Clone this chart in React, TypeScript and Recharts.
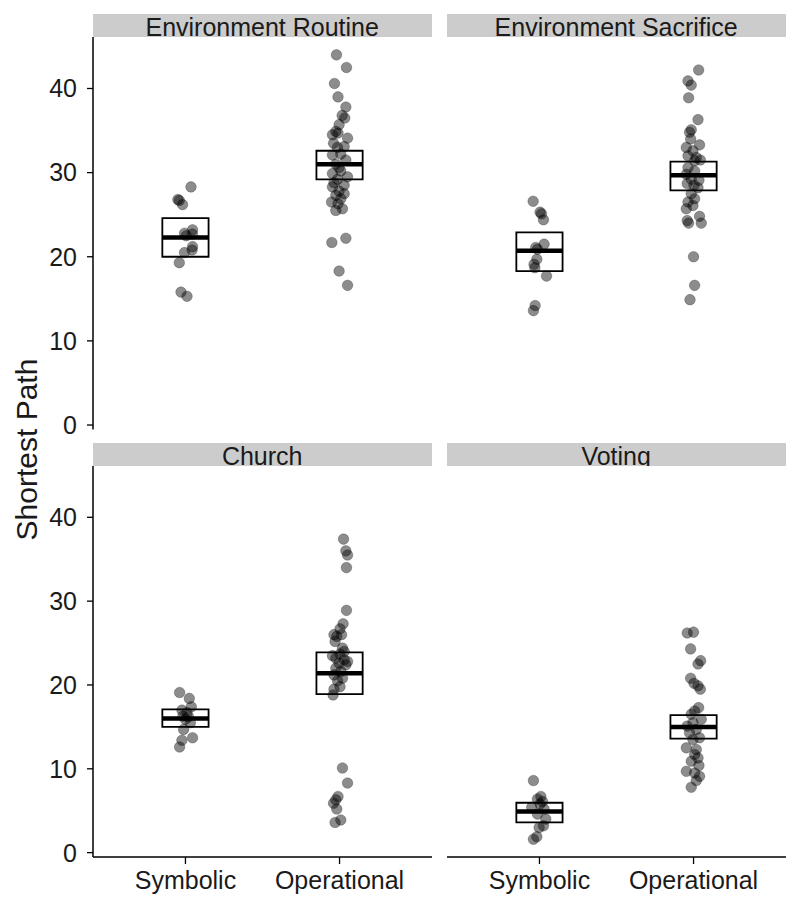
import React from "react";
import { ComposedChart, Scatter, XAxis, YAxis, ReferenceArea, ReferenceLine } from "recharts";

const groups = ["Symbolic", "Operational"];
const facets = ["Environment Routine", "Environment Sacrifice", "Church", "Voting"];
const yTicks = [0, 10, 20, 30, 40];
const yDomain = [-0.52, 46.12];

// Environment Routine
const erSymX = [1.036, 0.951, 0.96, 0.981, 1.046, 0.994, 1.045, 1.005, 1.046, 0.994, 1.043, 0.96, 0.971, 1.01];
const erSymY = [28.3, 26.8, 26.7, 26.2, 23.2, 22.8, 22.7, 22.5, 21.2, 20.5, 20.8, 19.3, 15.8, 15.3];
const erOpX = [1.98, 2.045, 1.967, 1.99, 2.041, 2.017, 2.034, 1.997, 1.976, 1.99, 1.954, 2.052, 1.961, 2.03, 1.987, 2.008, 1.954, 2.041, 1.976, 1.997, 2.008, 1.954, 2.052, 1.987, 1.964, 2.03, 1.954, 1.997, 2.03, 1.976, 2.008, 1.948, 1.99, 2.019, 1.976, 1.95, 2.041, 1.997, 2.052];
const erOpY = [44.0, 42.5, 40.6, 39.0, 37.8, 36.8, 36.5, 35.7, 34.9, 34.7, 34.5, 34.1, 33.5, 33.1, 33.0, 32.2, 32.1, 31.5, 31.0, 30.6, 30.2, 29.9, 29.5, 29.2, 28.8, 28.5, 28.3, 27.8, 27.5, 27.3, 26.9, 26.5, 26.3, 25.7, 25.5, 21.7, 22.2, 18.3, 16.6];
const erMean = [22.3, 31.0];
const erLow = [20.0, 29.2];
const erHigh = [24.6, 32.6];

// Environment Sacrifice
const esSymX = [0.959, 1.004, 1.013, 1.026, 1.03, 0.976, 0.987, 0.983, 0.965, 0.97, 1.046, 0.972, 0.961];
const esSymY = [26.6, 25.3, 25.1, 24.4, 21.5, 21.1, 20.9, 19.7, 19.1, 18.7, 17.7, 14.2, 13.6];
const esOpX = [2.033, 1.964, 1.985, 1.968, 2.029, 1.985, 1.974, 1.981, 2.039, 1.953, 1.996, 1.964, 2.018, 2.007, 2.044, 1.964, 2.007, 1.953, 1.985, 2.035, 1.959, 2.003, 2.029, 1.985, 2.007, 1.964, 1.996, 1.953, 2.039, 2.05, 1.968, 1.959, 2.0, 2.007, 1.977];
const esOpY = [42.2, 40.9, 40.4, 38.9, 36.3, 35.1, 34.8, 34.0, 33.3, 33.0, 32.6, 32.0, 31.8, 31.4, 31.5, 30.6, 30.2, 29.8, 29.2, 29.1, 28.7, 28.5, 28.2, 27.5, 26.9, 26.5, 26.1, 25.7, 24.8, 24.0, 24.0, 24.3, 20.0, 16.6, 14.9];
const esMean = [20.7, 29.7];
const esLow = [18.3, 27.9];
const esHigh = [22.9, 31.3];

// Church
const chSymX = [0.962, 1.025, 1.038, 0.977, 1.01, 0.984, 1.02, 0.999, 1.032, 0.988, 1.046, 0.977, 0.962];
const chSymY = [19.1, 18.4, 17.4, 17.0, 16.7, 16.3, 16.2, 15.9, 15.5, 14.7, 13.7, 13.4, 12.6];
const chOpX = [2.026, 2.041, 2.052, 2.045, 2.045, 2.023, 2.003, 1.964, 2.013, 1.982, 1.971, 2.019, 2.03, 2.003, 1.954, 1.976, 2.03, 2.052, 1.997, 2.041, 1.976, 2.008, 1.964, 2.019, 1.987, 2.003, 1.964, 1.958, 2.019, 2.052, 1.99, 1.976, 1.961, 1.982, 2.008, 1.971];
const chOpY = [37.4, 36.0, 35.5, 34.0, 28.9, 27.3, 26.7, 26.0, 26.0, 25.8, 25.2, 24.4, 24.0, 23.7, 23.5, 23.2, 23.0, 22.8, 22.6, 22.4, 22.0, 21.6, 21.2, 20.8, 20.5, 19.8, 19.5, 18.8, 10.1, 8.3, 6.7, 6.3, 5.9, 5.2, 3.9, 3.6];
const chMean = [16.0, 21.4];
const chLow = [15.0, 18.9];
const chHigh = [17.1, 23.9];

// Voting
const voSymX = [0.961, 1.009, 0.987, 1.02, 1.004, 0.95, 1.03, 0.987, 1.041, 1.026, 0.998, 0.983, 0.961];
const voSymY = [8.6, 6.7, 6.4, 6.1, 5.8, 5.4, 5.2, 4.6, 4.0, 3.2, 3.0, 1.9, 1.6];
const voOpX = [1.959, 2.0, 1.981, 2.046, 2.029, 1.981, 2.003, 2.029, 2.044, 2.033, 2.007, 1.985, 2.05, 1.996, 1.959, 2.018, 1.974, 2.039, 1.996, 1.953, 2.018, 2.007, 2.029, 1.985, 2.035, 1.953, 2.007, 2.039, 2.018, 1.985];
const voOpY = [26.2, 26.3, 24.3, 22.9, 22.5, 20.8, 20.2, 19.9, 19.5, 17.3, 16.9, 16.5, 15.9, 15.5, 15.1, 14.7, 14.3, 13.7, 13.5, 12.5, 12.3, 11.7, 11.3, 10.9, 10.4, 9.7, 9.5, 9.1, 8.6, 7.8];
const voMean = [4.9, 15.0];
const voLow = [3.6, 13.6];
const voHigh = [5.95, 16.4];

const FONT = "'Liberation Sans', Arial, Helvetica, sans-serif";
const HALF = 0.15;

const toPts = (xs: number[], ys: number[]) => xs.map((x, i) => ({ x, y: ys[i] }));

const Dot = (p: any) => (
  <circle cx={p.cx} cy={p.cy} r={5.3} fill="#000" fillOpacity={0.45} stroke="#000" strokeOpacity={0.3} strokeWidth={0.8} />
);

type PanelProps = {
  title: string;
  left: number;
  top: number;
  showX: boolean;
  showY: boolean;
  pts: { x: number; y: number }[];
  mean: number[];
  low: number[];
  high: number[];
};

function Panel({ title, left, top, showX, showY, pts, mean, low, high }: PanelProps) {
  const yW = showY ? 93 : 0;
  const plotW = 339;
  const plotH = showX ? 391 : 392.4;
  const xH = showX ? 52 : 0;
  const padB = showX ? 0 : 16;
  return (
    <>
      <div
        style={{
          position: "absolute",
          left: left + yW - 0.3,
          top: top - 23.4,
          width: plotW,
          height: 23.4,
          background: "#cccccc",
          overflow: "hidden",
          textAlign: "center",
          fontFamily: FONT,
          fontSize: 25,
          lineHeight: "26.1px",
          color: "#1a1a1a",
          whiteSpace: "nowrap",
        }}
      >
        {title}
      </div>
      <div style={{ position: "absolute", left, top }}>
        <ComposedChart width={yW + plotW} height={plotH + xH + padB} margin={{ top: 0, right: 0, bottom: padB, left: 0 }}>
          <XAxis
            type="number"
            dataKey="x"
            domain={[0.4, 2.6]}
            ticks={[1, 2]}
            interval={0}
            allowDataOverflow
            hide={!showX}
            height={xH || 1}
            tickFormatter={(v: number) => groups[v - 1]}
            tick={{ fill: "#1a1a1a", fontSize: 25, fontFamily: FONT }}
            tickSize={7}
            tickMargin={7}
            axisLine={{ stroke: "#000", strokeWidth: 1.5 }}
            tickLine={{ stroke: "#000", strokeWidth: 1.3 }}
          />
          <YAxis
            type="number"
            dataKey="y"
            domain={yDomain}
            ticks={yTicks}
            interval={0}
            allowDataOverflow
            hide={!showY}
            width={yW || 1}
            tick={{ fill: "#1a1a1a", fontSize: 25, fontFamily: FONT }}
            tickSize={6}
            tickMargin={10}
            axisLine={{ stroke: "#000", strokeWidth: 1.5 }}
            tickLine={{ stroke: "#000", strokeWidth: 1.3 }}
          />
          {groups.map((g, i) => (
            <ReferenceArea
              key={"a" + g}
              x1={i + 1 - HALF}
              x2={i + 1 + HALF}
              y1={low[i]}
              y2={high[i]}
              fill="#fff"
              fillOpacity={1}
              stroke="#000"
              strokeWidth={1.8}
            />
          ))}
          {groups.map((g, i) => (
            <ReferenceLine
              key={"l" + g}
              segment={[
                { x: i + 1 - HALF, y: mean[i] },
                { x: i + 1 + HALF, y: mean[i] },
              ]}
              stroke="#000"
              strokeWidth={4.5}
            />
          ))}
          <Scatter data={pts} dataKey="y" shape={Dot} isAnimationActive={false} />
        </ComposedChart>
      </div>
    </>
  );
}

export default function App() {
  return (
    <div style={{ position: "absolute", left: 0, top: 0, width: 800, height: 909, background: "#fff", fontFamily: FONT }}>
      <Panel title={facets[0]} left={0} top={37} showX={false} showY={true}
        pts={[...toPts(erSymX, erSymY), ...toPts(erOpX, erOpY)]} mean={erMean} low={erLow} high={erHigh} />
      <Panel title={facets[1]} left={447} top={37} showX={false} showY={false}
        pts={[...toPts(esSymX, esSymY), ...toPts(esOpX, esOpY)]} mean={esMean} low={esLow} high={esHigh} />
      <Panel title={facets[2]} left={0} top={466} showX={true} showY={true}
        pts={[...toPts(chSymX, chSymY), ...toPts(chOpX, chOpY)]} mean={chMean} low={chLow} high={chHigh} />
      <Panel title={facets[3]} left={447} top={466} showX={true} showY={false}
        pts={[...toPts(voSymX, voSymY), ...toPts(voOpX, voOpY)]} mean={voMean} low={voLow} high={voHigh} />
      <svg style={{ position: "absolute", left: 0, top: 0, pointerEvents: "none" }} width={80} height={909}>
        <text
          transform="translate(37, 449.5) rotate(-90)"
          textAnchor="middle"
          fontSize={30}
          fontFamily={FONT}
          fill="#1a1a1a"
        >
          Shortest Path
        </text>
      </svg>
    </div>
  );
}
